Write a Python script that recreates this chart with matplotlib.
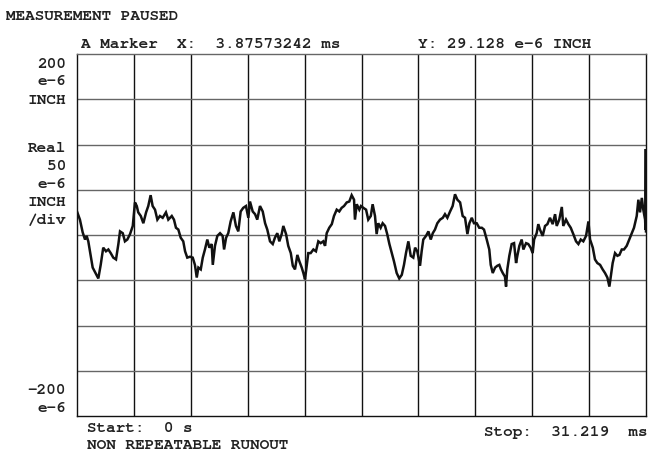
import numpy as np
import matplotlib
matplotlib.use('Agg')
import matplotlib.pyplot as plt

plt.rcParams.update({
    'font.family': ['Courier New', 'Nimbus Mono PS', 'FreeMono', 'Liberation Mono', 'DejaVu Sans Mono'],
    'font.weight': 'bold',
    'font.size': 11.5,
})

W, H = 656, 452
STOP_MS = 31.219
Y_MAX = 200
Y_DIV = 50

# trace: time (ms) and runout (e-6 inch)
TIME_MS = [
    0.00, 0.16, 0.31, 0.44, 0.53, 0.62, 0.75, 0.86, 0.99, 1.17,
    1.30, 1.44, 1.59, 1.72, 1.85, 1.99, 2.14, 2.27, 2.36, 2.51,
    2.63, 2.76, 2.91, 3.06, 3.18, 3.28, 3.36, 3.50, 3.64, 3.79,
    3.91, 4.04, 4.15, 4.28, 4.41, 4.55, 4.70, 4.88, 5.01, 5.20,
    5.32, 5.43, 5.56, 5.69, 5.83, 5.93, 6.05, 6.20, 6.35, 6.47,
    6.57, 6.66, 6.79, 6.90, 7.02, 7.15, 7.26, 7.39, 7.45, 7.57,
    7.70, 7.85, 7.99, 8.07, 8.18, 8.30, 8.43, 8.58, 8.72, 8.85,
    8.98, 9.12, 9.27, 9.40, 9.49, 9.64, 9.77, 9.89, 10.04, 10.19,
    10.32, 10.44, 10.59, 10.74, 10.86, 10.99, 11.10, 11.23, 11.32, 11.47,
    11.59, 11.73, 11.84, 11.96, 12.09, 12.20, 12.33, 12.42, 12.51, 12.60,
    12.69, 12.82, 12.97, 13.11, 13.24, 13.37, 13.51, 13.61, 13.70, 13.84,
    13.98, 14.10, 14.25, 14.39, 14.52, 14.65, 14.80, 14.94, 15.07, 15.20,
    15.25, 15.35, 15.49, 15.58, 15.71, 15.86, 15.98, 16.12, 16.22, 16.35,
    16.44, 16.53, 16.66, 16.77, 16.90, 17.02, 17.14, 17.27, 17.39, 17.54,
    17.68, 17.82, 17.94, 18.05, 18.18, 18.31, 18.45, 18.55, 18.67, 18.82,
    18.91, 19.00, 19.15, 19.28, 19.41, 19.52, 19.64, 19.77, 19.92, 20.07,
    20.19, 20.32, 20.47, 20.61, 20.74, 20.87, 21.02, 21.16, 21.29, 21.42,
    21.53, 21.66, 21.78, 21.93, 22.07, 22.21, 22.33, 22.48, 22.62, 22.70,
    22.81, 22.94, 23.06, 23.17, 23.26, 23.36, 23.48, 23.54, 23.61, 23.72,
    23.85, 23.98, 24.09, 24.16, 24.27, 24.40, 24.49, 24.64, 24.76, 24.89,
    25.00, 25.08, 25.22, 25.31, 25.40, 25.55, 25.68, 25.81, 25.95, 26.10,
    26.23, 26.32, 26.46, 26.60, 26.68, 26.83, 26.96, 27.09, 27.23, 27.38,
    27.51, 27.64, 27.78, 27.93, 28.06, 28.15, 28.30, 28.42, 28.55, 28.70,
    28.84, 28.97, 29.10, 29.21, 29.28, 29.39, 29.52, 29.65, 29.76, 29.89,
    30.01, 30.16, 30.30, 30.44, 30.56, 30.71, 30.80, 30.89, 30.99, 31.07,
    31.17, 31.19, 31.21, 31.219,
]
NRRO_UIN = [
    26, 17, 3, -5, -1, -7, -23, -36, -41, -48,
    -33, -14, -18, -16, -20, -25, -27, -10, 4, 2,
    -7, -5, 1, 10, 36, 32, 25, 21, 13, 25,
    32, 44, 32, 28, 17, 21, 19, 25, 17, 21,
    17, 8, 6, -3, -7, -18, -25, -24, -25, -33,
    -47, -36, -38, -25, -16, -5, -14, -10, -33, -12,
    -1, 2, -1, -16, -3, 2, 15, 25, 10, 4,
    26, 30, 32, 19, 37, 26, 23, 17, 32, 26,
    13, 6, -7, -10, -3, 2, -7, 1, 10, 1,
    -12, -20, -34, -38, -22, -29, -36, -42, -49, -34,
    -20, -20, -16, -18, -7, -9, -7, -12, 2, 8,
    12, 21, 28, 26, 30, 32, 36, 37, 44, 39,
    17, 34, 28, 32, 30, 28, 17, 21, 34, 21,
    1, 13, 8, 13, 10, 1, -10, -20, -29, -42,
    -48, -44, -33, -20, -7, -23, -25, -14, -18, -34,
    -18, -5, -1, 4, -5, 2, 6, 13, 17, 19,
    23, 19, 26, 32, 45, 39, 36, 21, 19, 1,
    13, 19, 13, 13, 8, 8, 6, -5, -16, -33,
    -42, -36, -34, -33, -38, -42, -46, -57, -38, -23,
    -10, -9, -31, -23, -12, -5, -16, -9, -10, -14,
    -20, -5, 2, 12, 6, -1, 10, 12, 19, 12,
    23, 10, 17, 31, 10, 17, 12, 8, 1, -7,
    -10, -5, -7, -1, 15, -5, -14, -27, -31, -33,
    -38, -42, -47, -57, -47, -31, -20, -23, -22, -16,
    -16, -12, -5, 2, 8, 21, 39, 25, 41, 28,
    17, 6, 95, 4,
]

fig = plt.figure(figsize=(W / 100, H / 100), dpi=100)
ax = fig.add_axes([77 / W, 1 - 417 / H, (646 - 77) / W, (417 - 55) / H])

ax.plot(TIME_MS, NRRO_UIN, color='#111111', lw=1.8, solid_joinstyle='miter')
ax.set_xlim(0, STOP_MS)
ax.set_ylim(-Y_MAX, Y_MAX)

# 10 x 8 graticule
for xv in np.linspace(0, STOP_MS, 11)[1:-1]:
    ax.axvline(xv, color='#111111', lw=1.0, zorder=0)
for yv in np.arange(-Y_MAX + Y_DIV, Y_MAX, Y_DIV):
    ax.axhline(yv, color='#666666', lw=1.0, zorder=0)
ax.set_xticks([])
ax.set_yticks([])
for side in ['left', 'right', 'bottom']:
    ax.spines[side].set_color('#111111')
ax.spines['top'].set_color('#666666')
for sp in ax.spines.values():
    sp.set_linewidth(1.0)


def ftext(x, y, s, **kw):
    fig.text(x / W, 1 - y / H, s, va='center', color='#222222', **kw)


ftext(6, 16, 'MEASUREMENT PAUSED', ha='left')
ftext(81, 44, 'A Marker  X:  3.87573242 ms', ha='left')
ftext(418, 44, 'Y: 29.128 e-6 INCH', ha='left')

for y, s in [(65, '200'), (82, 'e-6'), (100, 'INCH'),
             (148, 'Real'), (166, '50'), (185, 'e-6'), (203, 'INCH'), (221, '/div'),
             (391, '-200'), (409, 'e-6')]:
    ftext(66, y, s, ha='right')

ftext(87, 429, 'Start:  0 s', ha='left')
ftext(87, 446, 'NON REPEATABLE RUNOUT', ha='left')
ftext(647, 433, 'Stop:  31.219  ms', ha='right')

fig.savefig('out.png', dpi=100)
